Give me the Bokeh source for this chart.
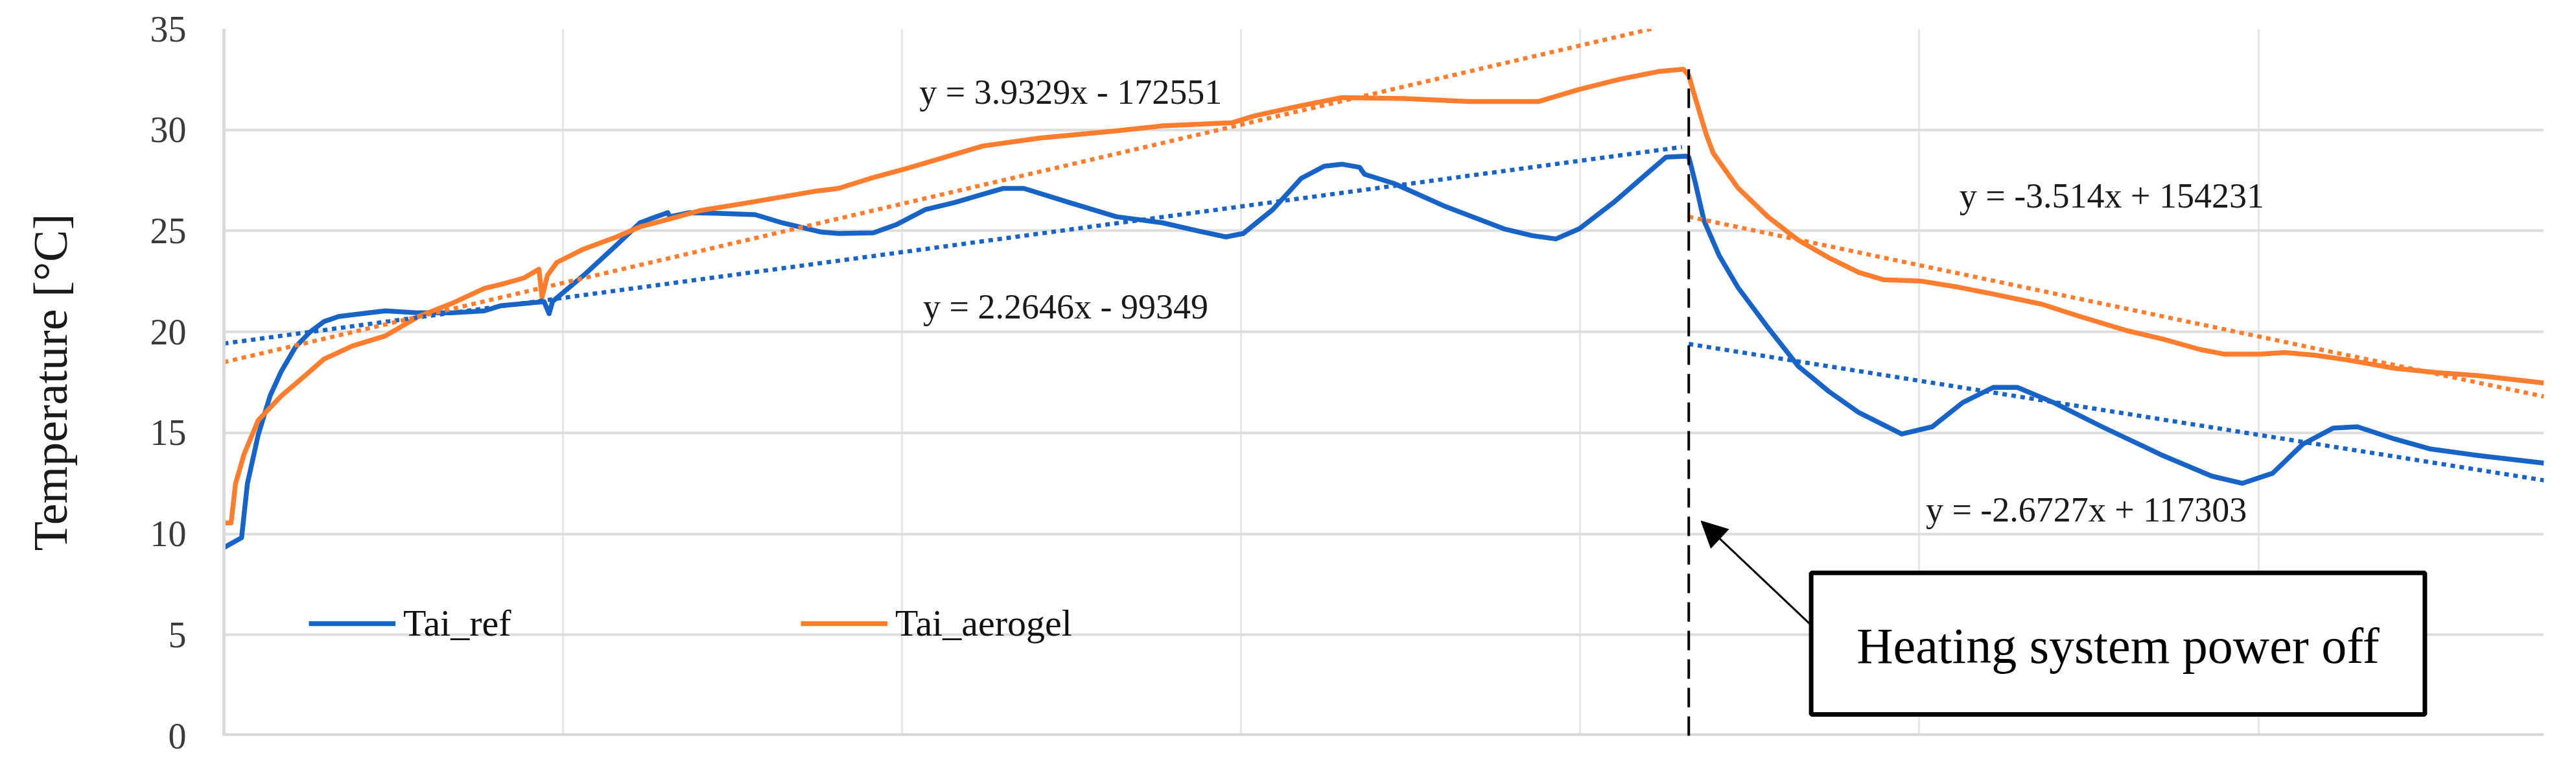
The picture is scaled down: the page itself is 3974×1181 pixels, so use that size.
from bokeh.plotting import figure
from bokeh.models import (Range1d, FixedTicker, Arrow, NormalHead, BoxAnnotation,
                          Label, Legend, LegendItem, ColumnDataSource)
from bokeh.embed import file_html
from bokeh.resources import INLINE
from bokeh.core.properties import value

# ---------------- data (time in days from start, 1 gridline = 1 day) ----------------
ref_days = [0.000, 0.052, 0.069, 0.101, 0.136, 0.169, 0.211, 0.253, 0.295, 0.338,
            0.380, 0.476, 0.573, 0.671, 0.768, 0.818, 0.885, 0.944, 0.959, 0.969,
            1.061, 1.158, 1.227, 1.275, 1.309, 1.315, 1.372, 1.451, 1.567, 1.646,
            1.762, 1.812, 1.915, 1.982, 2.068, 2.154, 2.297, 2.359, 2.494, 2.632,
            2.768, 2.871, 2.955, 3.006, 3.093, 3.177, 3.245, 3.297, 3.349, 3.364,
            3.450, 3.603, 3.775, 3.859, 3.928, 3.997, 4.098, 4.201, 4.253, 4.312,
            4.320, 4.321, 4.339, 4.365, 4.409, 4.465, 4.554, 4.643, 4.733, 4.822,
            4.948, 5.038, 5.128, 5.218, 5.289, 5.396, 5.539, 5.719, 5.862, 5.952,
            6.042, 6.131, 6.221, 6.292, 6.401, 6.508, 6.651, 6.842]
ref_temp = [9.32, 9.81, 12.47, 14.9, 16.83, 18.04, 19.25, 19.98, 20.51, 20.76,
            20.85, 21.04, 20.94, 20.94, 21.04, 21.3, 21.4, 21.5, 20.9, 21.5,
            22.8, 24.3, 25.4, 25.7, 25.9, 25.7, 25.9, 25.87, 25.8, 25.4,
            24.94, 24.87, 24.9, 25.3, 26.05, 26.4, 27.1, 27.1, 26.4, 25.7,
            25.4, 25.0, 24.7, 24.87, 26.05, 27.6, 28.2, 28.3, 28.15, 27.8,
            27.35, 26.2, 25.1, 24.76, 24.6, 25.1, 26.4, 27.9, 28.65, 28.7,
            28.65, 28.6, 27.4, 25.5, 23.8, 22.2, 20.2, 18.3, 17.05, 16.0,
            14.94, 15.3, 16.5, 17.25, 17.25, 16.5, 15.3, 13.87, 12.86, 12.5,
            13.0, 14.44, 15.24, 15.3, 14.7, 14.2, 13.87, 13.5]

aero_days = [0.000, 0.021, 0.034, 0.059, 0.101, 0.169, 0.237, 0.295, 0.379, 0.476,
             0.573, 0.671, 0.768, 0.818, 0.885, 0.929, 0.938, 0.954, 0.982, 1.061,
             1.158, 1.227, 1.305, 1.403, 1.548, 1.743, 1.812, 1.907, 2.016, 2.238,
             2.408, 2.632, 2.768, 2.972, 3.041, 3.177, 3.297, 3.484, 3.672, 3.876,
             3.997, 4.115, 4.235, 4.304, 4.320, 4.337, 4.371, 4.392, 4.465, 4.554,
             4.643, 4.733, 4.822, 4.895, 5.002, 5.109, 5.218, 5.361, 5.468, 5.612,
             5.719, 5.827, 5.898, 6.005, 6.078, 6.168, 6.258, 6.401, 6.526, 6.651,
             6.758, 6.842]
aero_temp = [10.54, 10.54, 12.47, 13.93, 15.62, 16.83, 17.8, 18.65, 19.3, 19.8,
             20.75, 21.4, 22.15, 22.35, 22.67, 23.1, 21.7, 22.8, 23.44, 24.1,
             24.7, 25.2, 25.55, 26.0, 26.4, 26.96, 27.1, 27.6, 28.1, 29.2,
             29.6, 29.95, 30.2, 30.35, 30.7, 31.2, 31.6, 31.55, 31.4, 31.4,
             32.0, 32.5, 32.9, 33.0, 32.7, 31.7, 29.8, 28.85, 27.13, 25.69,
             24.54, 23.67, 22.94, 22.58, 22.52, 22.23, 21.87, 21.37, 20.79, 20.06,
             19.64, 19.13, 18.9, 18.9, 18.98, 18.84, 18.62, 18.2, 17.98, 17.83,
             17.63, 17.47]

# linear trendlines (start / end values)
trend_heat_days = [0.0, 4.30]
trend_heat_ref = [19.42, 29.15]
trend_heat_aero_days = [0.0, 4.21]
trend_heat_aero = [18.5, 35.0]
trend_cool_days = [4.32, 6.842]
trend_cool_ref = [19.4, 12.65]
trend_cool_aero = [25.7, 16.8]

eq_text = ["y = 3.9329x - 172551", "y = 2.2646x - 99349",
           "y = -3.514x + 154231", "y = -2.6727x + 117303"]
eq_x = [2.051, 2.062, 5.118, 5.019]
eq_y = [31.86, 21.24, 26.74, 11.2]

power_off_day = 4.32
power_off_top = 33.0
note_text = "Heating system power off"

y_ticks = [0, 5, 10, 15, 20, 25, 30, 35]
x_grid_days = [1, 2, 3, 4, 5, 6]

BLUE = "#1863C6"
ORANGE = "#FF7D2E"
SERIF = "Liberation Serif"

# ---------------- figure ----------------
p = figure(width=3958, height=1165, output_backend="svg", toolbar_location=None,
           x_range=Range1d(0, 6.842), y_range=Range1d(0, 35),
           min_border_left=345, min_border_right=34, min_border_top=44,
           min_border_bottom=31)
p.outline_line_color = None
p.xaxis.visible = False

p.yaxis.ticker = FixedTicker(ticks=y_ticks)
p.yaxis.axis_line_color = "#D9D9D9"
p.yaxis.axis_line_width = 5
p.yaxis.major_tick_line_color = None
p.yaxis.minor_tick_line_color = None
p.yaxis.major_label_standoff = 52
p.yaxis.major_label_text_font = SERIF
p.yaxis.major_label_text_font_size = "56px"
p.yaxis.major_label_text_color = "#3a3a3a"
p.yaxis.axis_label = "Temperature [°C]"
p.yaxis.axis_label_text_font = SERIF
p.yaxis.axis_label_text_font_size = "74px"
p.yaxis.axis_label_text_font_style = "normal"
p.yaxis.axis_label_text_color = "#1a1a1a"
p.yaxis.axis_label_standoff = 110

p.ygrid.ticker = FixedTicker(ticks=y_ticks)
p.ygrid.grid_line_color = "#DDDDDD"
p.ygrid.grid_line_width = 4
p.xgrid.ticker = FixedTicker(ticks=x_grid_days)
p.xgrid.grid_line_color = "#E2E2E2"
p.xgrid.grid_line_width = 2.5

# bottom axis line
p.line(x=[0, 6.842], y=[0, 0], line_color="#D6D6D6", line_width=8)

r_ref = p.line(ref_days, ref_temp, line_color=BLUE, line_width=7.5, line_join="round")
r_aero = p.line(aero_days, aero_temp, line_color=ORANGE, line_width=7.5, line_join="round")

for xs, ys, c in [(trend_heat_days, trend_heat_ref, BLUE),
                  (trend_heat_aero_days, trend_heat_aero, ORANGE),
                  (trend_cool_days, trend_cool_ref, BLUE),
                  (trend_cool_days, trend_cool_aero, ORANGE)]:
    p.line(xs, ys, line_color=c, line_width=6.5, line_dash="7 7")

p.line(x=[power_off_day, power_off_day], y=[0, power_off_top], line_color="black",
       line_width=4, line_dash="30 14")

src = ColumnDataSource(dict(x=eq_x, y=eq_y, t=eq_text))
p.text(x="x", y="y", text="t", source=src, text_font=value(SERIF),
       text_font_size=value("54px"), text_baseline="middle", text_align="left",
       text_color="#1a1a1a")

# annotation box + arrow
box_left, box_right, box_bottom, box_top = 4.681, 6.491, 1.06, 8.07
p.add_layout(BoxAnnotation(left=box_left, right=box_right, bottom=box_bottom, top=box_top,
                           fill_color="white", fill_alpha=1.0, line_color="black",
                           line_alpha=1.0, line_width=7))
p.add_layout(Label(x=(box_left + box_right) / 2, y=4.45, text=note_text,
                   text_font=SERIF, text_font_size="78px", text_align="center",
                   text_baseline="middle", text_color="black"))
p.add_layout(Arrow(end=NormalHead(size=40, fill_color="black", line_color="black"),
                   x_start=box_left, y_start=5.48, x_end=4.356, y_end=10.64,
                   line_color="black", line_width=3))

legend = Legend(items=[LegendItem(label="Tai_ref", renderers=[r_ref]),
                       LegendItem(label="Tai_aerogel", renderers=[r_aero])],
                orientation="horizontal", location=(131, 140), spacing=0,
                glyph_width=134, glyph_height=60, label_height=60, label_width=613,
                label_standoff=12, padding=0, margin=0,
                border_line_alpha=0, background_fill_alpha=0,
                label_text_font=SERIF, label_text_font_size="58px",
                label_text_color="#111111")
p.add_layout(legend)

open("out.html", "w").write(file_html(p, INLINE))
